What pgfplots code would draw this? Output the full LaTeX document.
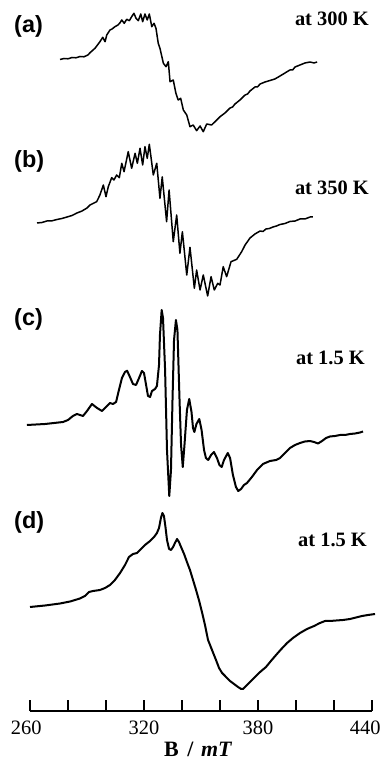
\documentclass[border=0pt]{standalone}
\usepackage{fontspec}
\setmainfont{Liberation Serif}
\newfontfamily\arialfont{Liberation Sans}
\usepackage{pgfplots}
\pgfplotsset{compat=1.18}
\begin{document}
\begin{tikzpicture}
\begin{axis}[
  scale only axis, width=342bp, height=711bp,
  xmin=260, xmax=440, ymin=-711, ymax=0,
  axis x line*=bottom, axis y line=none,
  axis line style={line width=2.2bp,-},
  xtick={260,280,300,320,340,360,380,400,420,440},
  xticklabels={,,,320,,,380,,,},
  tick align=inside, major tick length=11bp,
  tick style={line width=2bp,black},
  xticklabel style={font=\fontsize{20.5}{20.5}\selectfont, yshift=-6bp},
  /pgf/number format/assume math mode=true,
  clip=false,
]
% (a) at 300 K
\addplot[black, line width=1.5bp, line join=round] coordinates {
(275.8,-59.5)(277.9,-58.5)(280.0,-58.8)(282.1,-57.5)(284.2,-57.8)(286.3,-56.5)(288.4,-56.8)(290.5,-55)
(291.6,-52.7)(294.2,-48.3)(296.8,-41.7)(298.3,-37.3)(299.5,-41.7)(300.4,-35)(302.1,-30)(303.2,-29)
(304.7,-26.7)(306.3,-25)(307.4,-22.7)(308.3,-20)(309.6,-23.3)(310.9,-19.3)(312.3,-20.7)(313.5,-16.7)
(314.7,-13.3)(315.8,-18.3)(317.0,-20.7)(318.3,-14)(319.3,-21.7)(320.5,-14)(321.7,-20)(322.8,-14)
(324.1,-26.7)(325.3,-23.3)(326.3,-28.3)(327.5,-43.3)(328.4,-48.3)(330.2,-63.3)(331.6,-66.7)
(332.8,-61.7)(333.7,-81.7)(335.4,-80)(336.8,-93.3)(338.0,-100)(339.3,-98.3)(340.7,-110)(342.5,-115)
(344.2,-126.7)(345.9,-125)(347.7,-130.7)(349.5,-126)(351.2,-131.7)(353.0,-124)(355.6,-125)
(358.3,-120)(360.0,-116.7)(362.6,-113)(365.3,-108)(366.6,-107)(367.9,-104)(370.5,-100)(373.2,-95)
(374.5,-94)(375.8,-91)(378.4,-87)(379.7,-87)(381.1,-84)(383.7,-82)(386.3,-80.5)(388.9,-79)
(391.6,-76)(394.2,-73)(396.8,-70)(398.2,-70)(399.5,-67)(402.1,-65)(404.7,-63)(407.4,-62)(409.5,-63)(411.1,-62)
};
% (b) at 350 K
\addplot[black, line width=1.5bp, line join=round] coordinates {
(263.7,-223)(266.3,-222.5)(268.9,-221)(271.6,-220.8)(274.2,-219.5)(276.8,-218.5)(279.5,-217)
(282.1,-215.5)(284.7,-213)(287.4,-211)(290.0,-208)(291.6,-205)(295.1,-201.7)(296.8,-195)(298.6,-185)
(300.0,-196.7)(301.2,-186.7)(303.0,-177.7)(304.2,-180)(305.6,-175)(307.0,-177.7)(308.3,-163.3)
(309.5,-171.7)(311.7,-151.7)(313.5,-168.3)(315.3,-153.3)(316.5,-163.3)(317.9,-148.3)(319.3,-165)
(320.5,-146.7)(321.7,-158.3)(322.8,-144.3)(324.9,-175)(326.7,-163.3)(328.4,-198.3)(329.6,-177)
(331.9,-221.7)(333.2,-190)(335.4,-241.7)(337.2,-215)(338.9,-253.3)(340.2,-231.7)(342.5,-275)
(344.2,-247.3)(346.5,-288.3)(347.7,-270)(349.5,-290)(351.2,-275)(353.5,-296)(355.3,-276.7)
(357.0,-290)(358.8,-283.3)(360.0,-285)(361.7,-266.7)(363.5,-276.7)(365.8,-261.7)(368.8,-259.3)
(371.4,-251.7)(373.2,-245)(375.8,-238)(378.4,-234)(381.1,-231)(382.6,-231.5)(384.2,-229)
(386.0,-228.5)(387.9,-227)(389.7,-226)(391.6,-224.5)(394.2,-223.5)(396.8,-221.5)(399.5,-221)
(402.1,-219)(404.7,-219)(407.4,-217)(408.9,-217)
};
% (c) at 1.5 K
\addplot[black, line width=2bp, line join=round] coordinates {
(258.4,-425)(267.9,-424)(277.4,-422)(280.0,-420)(282.6,-416)(284.7,-414)(286.3,-415)(287.9,-416)
(290.0,-411)(292.6,-404)(295.3,-408)(297.9,-411)(300.0,-407)(302.1,-403)(303.7,-404)(305.3,-402)
(306.8,-390)(308.4,-378)(310.0,-372)(311.1,-370.7)(312.6,-377)(314.2,-384)(315.8,-385)(317.4,-378)
(318.9,-371)(320.0,-373)(321.1,-385)(322.1,-396)(323.2,-397)(324.2,-391)(325.8,-389)(326.8,-386)
(327.9,-365)(328.4,-335)(329.3,-310)(330.0,-318)(331.1,-370)(332.1,-450)(333.3,-496)(334.2,-470)
(335.0,-400)(335.8,-340)(336.8,-320)(337.6,-330)(338.7,-400)(339.5,-445)(340.4,-467)(341.3,-445)
(342.6,-410)(343.8,-399)(345.0,-412)(345.8,-428)(346.5,-432)(347.6,-424)(349.1,-419)(350.3,-430)
(351.6,-450)(352.6,-458)(353.8,-460)(355.3,-455)(356.8,-452)(358.4,-458)(359.7,-465)(360.9,-467)
(362.1,-460)(364.1,-453)(365.3,-458)(366.8,-475)(368.4,-487)(369.6,-491)(371.1,-489)(372.6,-485)
(374.2,-483)(376.8,-477)(379.5,-470)(382.6,-464)(386.3,-461)(389.5,-460)(391.6,-458)(394.2,-453)
(396.8,-448)(399.5,-445)(402.1,-443)(404.7,-441.5)(407.4,-441)(409.5,-442)(411.6,-443.5)(413.7,-441)
(415.8,-438)(417.9,-436.5)(420.5,-436)(423.2,-435)(425.8,-435)(428.4,-434)(431.1,-433.5)
(433.7,-432.5)(435.3,-431.5)
};
% (d) at 1.5 K
\addplot[black, line width=2bp, line join=round] coordinates {
(260.0,-607)(267.9,-605.5)(275.8,-603.5)(281.1,-601.5)(286.3,-598.5)(288.9,-596)(291.1,-592)
(293.2,-591)(296.8,-590)(299.5,-588)(302.1,-585)(304.7,-580)(307.4,-573)(310.0,-565)(312.1,-557)
(314.2,-554)(316.3,-553)(318.4,-549)(320.5,-545)(323.2,-541)(325.3,-537)(326.8,-533)(327.9,-528)
(328.9,-518)(329.7,-513)(330.5,-516)(331.3,-527)(332.1,-540)(333.2,-549)(334.2,-550)(335.3,-547)
(336.3,-543)(337.4,-539)(338.4,-542)(339.5,-547)(341.1,-554)(342.6,-562)(344.2,-570)(345.8,-580)
(347.4,-590)(348.9,-600)(350.5,-612)(352.1,-625)(353.7,-640)(355.8,-650)(357.9,-660)(359.5,-668)
(361.1,-673)(363.2,-677)(365.3,-681)(367.4,-684)(369.5,-687)(371.1,-689)(372.1,-689)(373.7,-686)
(375.8,-682)(378.4,-677)(381.1,-672)(384.2,-667)(386.8,-661)(389.5,-655)(392.3,-649)(395.3,-643)
(398.4,-638)(402.1,-633)(405.8,-629)(409.5,-626)(412.6,-623)(415.3,-621)(417.9,-621)(421.1,-620.5)
(424.7,-620)(428.4,-619)(431.6,-617.5)(434.7,-616)(437.9,-615)(441.6,-614)
};
% end tick labels, kept inside the picture as in the reference
\node[anchor=north, yshift=-6bp, font=\fontsize{20.5}{20.5}\selectfont] at (axis cs:258.0,-711) {260};
\node[anchor=north, yshift=-6bp, font=\fontsize{20.5}{20.5}\selectfont] at (axis cs:436.4,-711) {440};
% panel labels
\node[anchor=base west, inner sep=0pt, font=\arialfont\bfseries\fontsize{23.5}{23.5}\selectfont] at (axis cs:251.6,-33) {(a)};
\node[anchor=base west, inner sep=0pt, font=\arialfont\bfseries\fontsize{23.5}{23.5}\selectfont] at (axis cs:251.6,-168) {(b)};
\node[anchor=base west, inner sep=0pt, font=\arialfont\bfseries\fontsize{23.5}{23.5}\selectfont] at (axis cs:251.6,-326) {(c)};
\node[anchor=base west, inner sep=0pt, font=\arialfont\bfseries\fontsize{23.5}{23.5}\selectfont] at (axis cs:251.6,-529) {(d)};
\node[anchor=base east, inner sep=0pt, font=\bfseries\fontsize{20.5}{20.5}\selectfont] at (axis cs:438.4,-26) {at 300 K};
\node[anchor=base east, inner sep=0pt, font=\bfseries\fontsize{20.5}{20.5}\selectfont] at (axis cs:438.4,-195) {at 350 K};
\node[anchor=base east, inner sep=0pt, font=\bfseries\fontsize{20.5}{20.5}\selectfont] at (axis cs:436.3,-365) {at 1.5 K};
\node[anchor=base east, inner sep=0pt, font=\bfseries\fontsize{20.5}{20.5}\selectfont] at (axis cs:437.4,-546.7) {at 1.5 K};
\node[anchor=base, inner sep=0pt, font=\bfseries\fontsize{22}{22}\selectfont] at (axis cs:348.5,-756) {B\hspace{0.4em}/\hspace{0.35em}\textit{mT}};
\coordinate (BL) at (axis cs:244.21,-761);
\coordinate (TR) at (axis cs:445.8,0);
\end{axis}
\pgfresetboundingbox
\path[use as bounding box] (BL) rectangle (TR);
\end{tikzpicture}
\end{document}
